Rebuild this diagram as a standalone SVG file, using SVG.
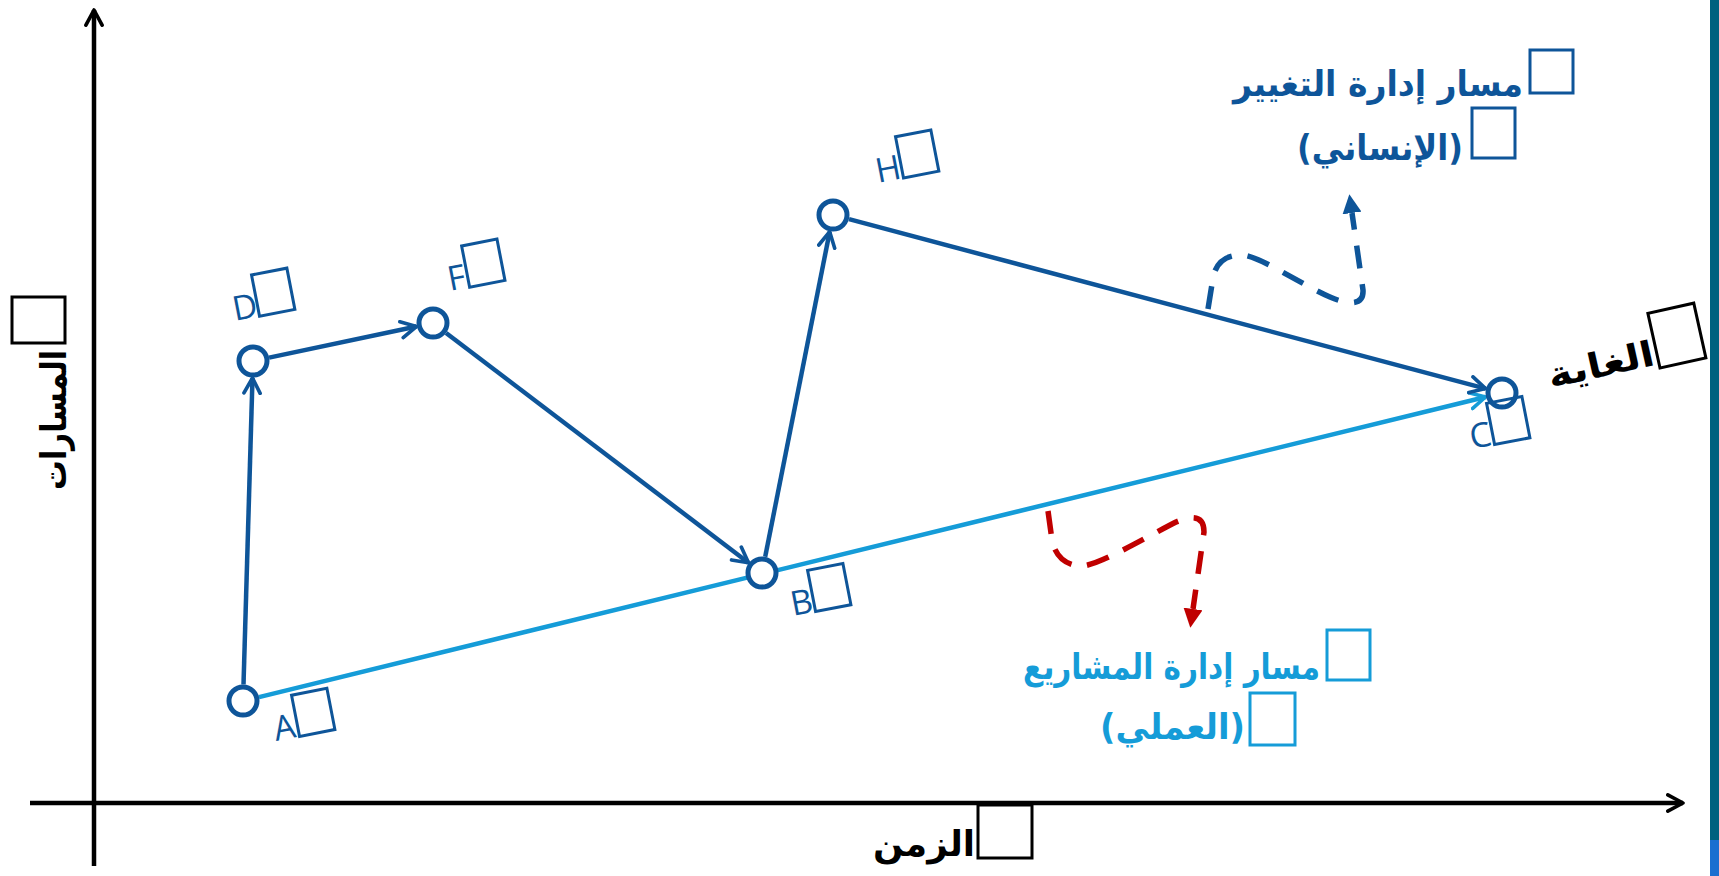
<svg xmlns="http://www.w3.org/2000/svg" width="1719" height="876" viewBox="0 0 1719 876">
<defs>
<style>
.edge{fill:none;stroke:#0e5599;stroke-width:4.5;marker-end:url(#arrDark)}
.edge-light{fill:none;stroke:#159cd8;stroke-width:4.5;marker-end:url(#arrLight)}
.axis{fill:none;stroke:#000;stroke-width:4.5;marker-end:url(#arrBlack)}
.dash-blue{fill:none;stroke:#0e5599;stroke-width:5.5;stroke-dasharray:23 16;marker-end:url(#triBlue)}
.dash-red{fill:none;stroke:#c00000;stroke-width:5.5;stroke-dasharray:23 16;marker-end:url(#triRed)}
.node circle{fill:#fff;stroke:#0e5599;stroke-width:5}
.lbl{font-family:"Open Sans","Liberation Sans",sans-serif;font-size:34px;fill:#0e5599}
.tofu{fill:none;stroke-width:3}
.ar{font-family:"DejaVu Sans",sans-serif;font-weight:bold;font-size:35px}
</style>
<marker id="arrDark" viewBox="0 0 10 10" refX="8.5" refY="5" markerWidth="4.5" markerHeight="4.5" orient="auto"><path d="M1,1 L8.5,5 L1,9" fill="none" stroke="#0e5599" stroke-width="1.8" stroke-linecap="round" stroke-linejoin="round"/></marker>
<marker id="arrLight" viewBox="0 0 10 10" refX="8.5" refY="5" markerWidth="4.5" markerHeight="4.5" orient="auto"><path d="M1,1 L8.5,5 L1,9" fill="none" stroke="#159cd8" stroke-width="1.8" stroke-linecap="round" stroke-linejoin="round"/></marker>
<marker id="arrBlack" viewBox="0 0 10 10" refX="8.5" refY="5" markerWidth="4.5" markerHeight="4.5" orient="auto"><path d="M1,1 L8.5,5 L1,9" fill="none" stroke="#000" stroke-width="1.8" stroke-linecap="round" stroke-linejoin="round"/></marker>
<marker id="triBlue" viewBox="0 0 18 18" refX="0" refY="9" markerWidth="19" markerHeight="19" markerUnits="userSpaceOnUse" orient="auto"><path d="M0,0 L18,9 L0,18 Z" fill="#0e5599"/></marker>
<marker id="triRed" viewBox="0 0 18 18" refX="0" refY="9" markerWidth="19" markerHeight="19" markerUnits="userSpaceOnUse" orient="auto"><path d="M0,0 L18,9 L0,18 Z" fill="#c00000"/></marker>
</defs>
<rect x="0" y="0" width="1719" height="876" fill="#fff"/>
<rect x="1710" y="0" width="9" height="840" fill="#00617f"/>
<rect x="1710" y="840" width="9" height="36" fill="#1a6fd0"/>

<g id="axes">
<line class="axis" x1="94" y1="866" x2="94" y2="10"/>
<line class="axis" x1="30" y1="803" x2="1683" y2="803"/>
</g>

<g id="connectors">
<line class="edge-light" x1="259" y1="697.1" x2="1485.5" y2="397"/>
<line class="edge" x1="243.5" y1="684.5" x2="252.5" y2="378"/>
<line class="edge" x1="269.1" y1="357.6" x2="416.4" y2="326.5"/>
<line class="edge" x1="446.1" y1="333" x2="748.5" y2="562.7"/>
<line class="edge" x1="765.2" y1="556.8" x2="829.7" y2="231.7"/>
<line class="edge" x1="849" y1="219.2" x2="1485.6" y2="388.6"/>
<path class="dash-blue" d="M1208,309 L1213,278 C1216,262 1226,255 1242,255 C1260,256 1300,284 1330,297 C1348,305 1364,306 1363,290 L1352,213"/>
<path class="dash-red" d="M1048,511 L1052,540 C1055,556 1066,566 1082,566 C1100,565 1150,535 1176,522 C1190,516 1204,514 1204,532 L1193,609"/>
</g>

<g id="node-A" class="node"><circle cx="243" cy="701" r="14"/>
<g transform="translate(276,741) rotate(-11)"><text class="lbl" x="0" y="0">A</text><rect class="tofu" stroke="#0e5599" x="24" y="-42" width="36" height="42"/></g></g>
<g id="node-D" class="node"><circle cx="253" cy="361" r="14"/>
<g transform="translate(235,321) rotate(-11)"><text class="lbl" x="0" y="0">D</text><rect class="tofu" stroke="#0e5599" x="25" y="-42" width="36" height="42"/></g></g>
<g id="node-F" class="node"><circle cx="433" cy="323" r="14"/>
<g transform="translate(450,291) rotate(-11)"><text class="lbl" x="0" y="0">F</text><rect class="tofu" stroke="#0e5599" x="20" y="-42" width="36" height="42"/></g></g>
<g id="node-B" class="node"><circle cx="762" cy="573" r="14"/>
<g transform="translate(793,616) rotate(-11)"><text class="lbl" x="0" y="0">B</text><rect class="tofu" stroke="#0e5599" x="23" y="-42" width="36" height="42"/></g></g>
<g id="node-H" class="node"><circle cx="833" cy="215" r="14"/>
<g transform="translate(878,183) rotate(-11)"><text class="lbl" x="0" y="0">H</text><rect class="tofu" stroke="#0e5599" x="26" y="-42" width="36" height="42"/></g></g>
<g id="node-C" class="node"><circle cx="1502" cy="393" r="14"/>
<g transform="translate(1472,449) rotate(-11)"><text class="lbl" x="0" y="0">C</text><rect class="tofu" stroke="#0e5599" x="23" y="-42" width="36" height="42"/></g></g>

<g id="label-change">
<text class="ar" fill="#0e5599" x="1523" y="96" text-anchor="end" textLength="290" lengthAdjust="spacingAndGlyphs">مسار إدارة التغيير</text>
<rect class="tofu" stroke="#0e5599" x="1530" y="50" width="43" height="43"/>
<text class="ar" fill="#0e5599" x="1463" y="160" text-anchor="end" textLength="166" lengthAdjust="spacingAndGlyphs">(الإنساني)</text>
<rect class="tofu" stroke="#0e5599" x="1472" y="108" width="43" height="50"/>
</g>

<g id="label-project">
<text class="ar" fill="#159cd8" x="1320" y="679" text-anchor="end" textLength="297" lengthAdjust="spacingAndGlyphs">مسار إدارة المشاريع</text>
<rect class="tofu" stroke="#159cd8" x="1327" y="630" width="43" height="50"/>
<text class="ar" fill="#159cd8" x="1245" y="739" text-anchor="end" textLength="145" lengthAdjust="spacingAndGlyphs">(العملي)</text>
<rect class="tofu" stroke="#159cd8" x="1250" y="693" width="45" height="52"/>
</g>

<g id="label-yaxis">
<text class="ar" fill="#000" transform="translate(66,350) rotate(-90)" x="0" y="0" text-anchor="end" textLength="140" lengthAdjust="spacingAndGlyphs">المسارات</text>
<rect class="tofu" stroke="#000" x="12" y="297" width="53" height="46"/>
</g>

<g id="label-xaxis">
<text class="ar" fill="#000" x="975" y="856" text-anchor="end" textLength="102" lengthAdjust="spacingAndGlyphs">الزمن</text>
<rect class="tofu" stroke="#000" x="978" y="805" width="54" height="53"/>
</g>

<g id="label-goal" transform="translate(1660,368) rotate(-12.5)">
<text class="ar" fill="#000" x="-3" y="-4" text-anchor="end" textLength="108" lengthAdjust="spacingAndGlyphs">الغاية</text>
<rect class="tofu" stroke="#000" x="0" y="-56" width="47" height="56"/>
</g>
</svg>
